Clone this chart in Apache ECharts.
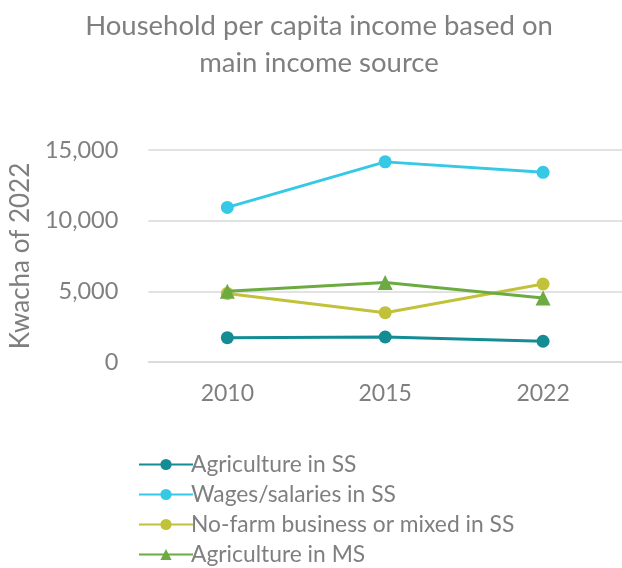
<!DOCTYPE html>
<html>
<head>
<meta charset="utf-8">
<script src="https://cdn.jsdelivr.net/npm/echarts@6/dist/echarts.min.js"></script>
<style>
  html, body { margin: 0; padding: 0; background: #ffffff; }
  #chart { width: 622px; height: 568px; }
</style>
</head>
<body>
<div id="chart"></div>
<script>
// Survey years on the category axis
const years = ['2010', '2015', '2022'];

// Household per capita income (Kwacha of 2022) by main income source
const agricultureSS = [1720, 1770, 1470];
const wagesSS = [10940, 14160, 13420];
const nonFarmSS = [4850, 3490, 5520];
const agricultureMS = [5000, 5620, 4520];

const seriesNames = [
  'Agriculture in SS',
  'Wages/salaries in SS',
  'No-farm business or mixed in SS',
  'Agriculture in MS'
];
const seriesColors = ['#138C93', '#35C9E6', '#C1C13A', '#6BAB41'];
const seriesSymbols = ['circle', 'circle', 'circle', 'triangle'];
const seriesValues = [agricultureSS, wagesSS, nonFarmSS, agricultureMS];

const FONT = 'Lato, "Open Sans", sans-serif';
const GREY = '#7f7f7f';

const chart = echarts.init(document.getElementById('chart'), null, { renderer: 'canvas' });

chart.setOption({
  backgroundColor: '#ffffff',
  animation: false,
  title: {
    text: 'Household per capita income based on\nmain income source',
    left: 319,
    textAlign: 'center',
    top: 8,
    padding: 0,
    textStyle: {
      color: GREY,
      fontFamily: FONT,
      fontWeight: 'normal',
      fontSize: 27.5,
      lineHeight: 37
    }
  },
  grid: {
    left: 142,
    top: 150,
    right: -10,
    height: 212,
    containLabel: false
  },
  xAxis: {
    type: 'category',
    data: years,
    boundaryGap: true,
    axisLine: { show: true, lineStyle: { color: '#d9d9d9', width: 1.5 } },
    axisTick: { show: false },
    axisLabel: {
      color: GREY,
      fontFamily: FONT,
      fontSize: 23,
      margin: 20
    }
  },
  yAxis: {
    type: 'value',
    min: 0,
    max: 15000,
    interval: 5000,
    name: 'Kwacha of 2022',
    nameLocation: 'middle',
    nameGap: 112,
    nameTextStyle: {
      color: GREY,
      fontFamily: FONT,
      fontSize: 26
    },
    axisLine: { show: false },
    axisTick: { show: false },
    splitLine: { lineStyle: { color: '#d9d9d9', width: 1.5 } },
    axisLabel: {
      color: GREY,
      fontFamily: FONT,
      fontSize: 23.5,
      margin: 30,
      formatter: v => v.toLocaleString('en-US')
    }
  },
  legend: {
    orient: 'vertical',
    left: 133,
    top: 448,
    height: 140,
    itemWidth: 54,
    itemHeight: 14,
    itemGap: 7,
    data: seriesNames,
    textStyle: {
      color: GREY,
      fontFamily: FONT,
      fontSize: 22.8,
      padding: [0, 0, 0, -7]
    }
  },
  series: seriesNames.map((name, i) => ({
    name: name,
    type: 'line',
    data: seriesValues[i],
    symbol: seriesSymbols[i],
    symbolSize: seriesSymbols[i] === 'triangle' ? 15 : 13,
    showSymbol: true,
    lineStyle: { color: seriesColors[i], width: 3 },
    itemStyle: { color: seriesColors[i] },
    z: 2 + (i === 3 ? 1 : 0)
  }))
});
</script>
</body>
</html>
